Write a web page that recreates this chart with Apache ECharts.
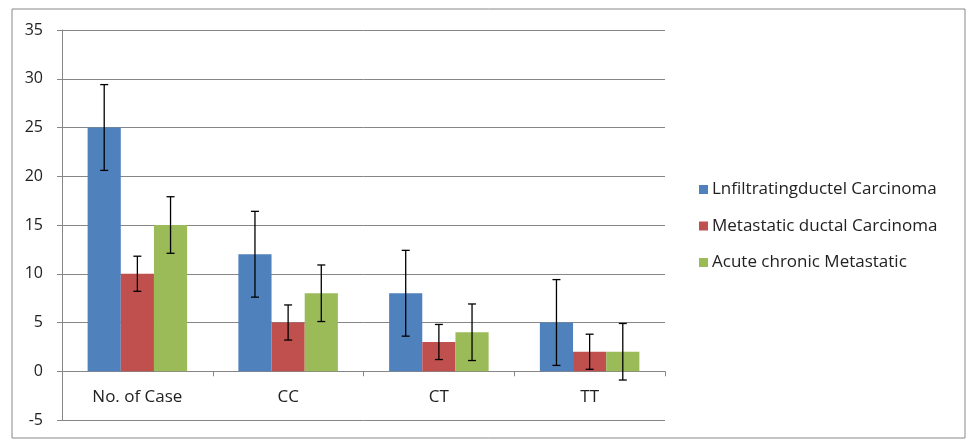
<!DOCTYPE html>
<html><head><meta charset="utf-8">
<script src="https://cdn.jsdelivr.net/npm/echarts@6/dist/echarts.min.js"></script>
<style>html,body{margin:0;padding:0;background:#fff}#c{width:975px;height:446px}</style>
</head><body><div id="c"></div>
<script>
const categories = ['No. of Case', 'CC', 'CT', 'TT'];
const seriesNames = ['Lnfiltratingductel Carcinoma', 'Metastatic ductal Carcinoma', 'Acute chronic Metastatic'];
const infiltrating = [25, 12, 8, 5];
const metastatic = [10, 5, 3, 2];
const acute = [15, 8, 4, 2];
const infiltratingErr = [4.4, 4.4, 4.4, 4.4];
const metastaticErr = [1.8, 1.8, 1.8, 1.8];
const acuteErr = [2.9, 2.9, 2.9, 2.9];
const yTicks = [-5, 0, 5, 10, 15, 20, 25, 30, 35];

const colors = ['#4F81BD', '#C0504D', '#9BBB59'];
const values = [infiltrating, metastatic, acute];
const errs = [infiltratingErr, metastaticErr, acuteErr];
const gapRatio = 0.34;
const font = '"Open Sans", "Noto Sans", sans-serif';

const chart = echarts.init(document.getElementById('c'));
const series = [];
values.forEach((v, i) => {
  series.push({
    name: seriesNames[i], type: 'bar', data: v, barGap: '0%', barCategoryGap: (gapRatio * 100) + '%',
    itemStyle: { color: colors[i] }, emphasis: { disabled: true }
  });
});
values.forEach((v, i) => {
  series.push({
    type: 'custom', name: seriesNames[i] + ' err', silent: true, z: 10,
    data: v.map((val, k) => [k, val - errs[i][k], val + errs[i][k]]),
    renderItem: function (params, api) {
      const k = api.value(0);
      const lo = api.coord([k, api.value(1)]);
      const hi = api.coord([k, api.value(2)]);
      const band = api.size([1, 0])[0];
      const bw = band * (1 - gapRatio) / 3;
      const x = lo[0] + (i - 1) * bw;
      const cap = 4;
      const st = { stroke: '#000', lineWidth: 1.3 };
      return { type: 'group', children: [
        { type: 'line', shape: { x1: x, y1: lo[1], x2: x, y2: hi[1] }, style: st },
        { type: 'line', shape: { x1: x - cap, y1: lo[1], x2: x + cap, y2: lo[1] }, style: st },
        { type: 'line', shape: { x1: x - cap, y1: hi[1], x2: x + cap, y2: hi[1] }, style: st }
      ]};
    },
    encode: { x: 0, y: [1, 2] }
  });
});

chart.setOption({
  animation: false,
  color: colors,
  textStyle: { fontFamily: font },
  graphic: [{ type: 'rect', shape: { x: 12, y: 9, width: 953, height: 429 }, style: { fill: 'none', stroke: '#888', lineWidth: 1 }, silent: true }],
  grid: { left: 62, right: 310, top: 30, bottom: 26, outerBoundsMode: 'none', containLabel: false },
  legend: {
    data: seriesNames, orient: 'vertical', left: 694, top: 176,
    itemWidth: 9, itemHeight: 9, itemGap: 19.5, icon: 'rect',
    textStyle: { fontSize: 17, color: '#222', fontFamily: font, padding: [0, 0, 0, -1] },
    selectedMode: false
  },
  xAxis: [{
    type: 'category', data: categories,
    axisLine: { onZero: true, lineStyle: { color: '#868686' } },
    axisTick: { show: true, length: 5, lineStyle: { color: '#868686' } },
    axisLabel: { show: false },
    splitLine: { show: false }
  }, {
    type: 'category', data: categories, position: 'bottom', offset: -49,
    axisLine: { show: false }, axisTick: { show: false },
    axisLabel: { fontSize: 17, color: '#222', margin: 18, fontFamily: font },
    splitLine: { show: false }
  }],
  yAxis: {
    type: 'value', min: yTicks[0], max: yTicks[yTicks.length - 1], interval: 5,
    axisLine: { show: true, lineStyle: { color: '#868686' } },
    axisTick: { show: true, length: 5, lineStyle: { color: '#868686' } },
    axisLabel: { fontSize: 16, color: '#222', margin: 19, fontFamily: font },
    splitLine: { lineStyle: { color: '#868686', width: 1 } }
  },
  series: series
});
</script></body></html>
